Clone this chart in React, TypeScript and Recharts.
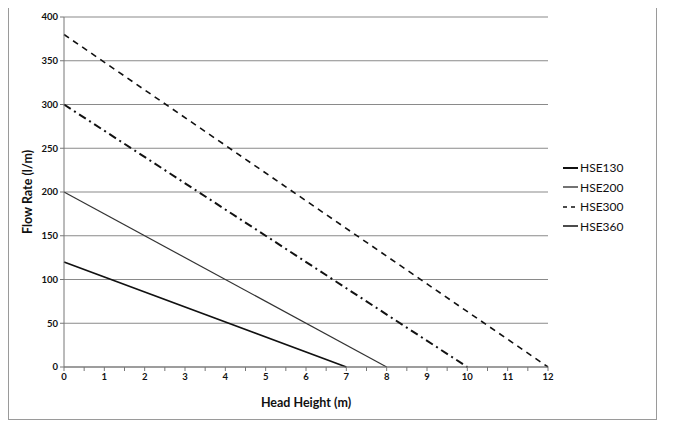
import React from 'react';
import { LineChart, Line, XAxis, YAxis, CartesianGrid } from 'recharts';

const headHeights = [0, 7, 8, 10, 12];
const hse130 = [120, 0, null, null, null];
const hse200 = [200, null, 0, null, null];
const hse300 = [380, null, null, null, 0];
const hse360 = [300, null, null, 0, null];
const xTicks = [0, 0.5, 1, 1.5, 2, 2.5, 3, 3.5, 4, 4.5, 5, 5.5, 6, 6.5, 7, 7.5, 8, 8.5, 9, 9.5, 10, 10.5, 11, 11.5, 12];
const yTicks = [0, 50, 100, 150, 200, 250, 300, 350, 400];

const data = headHeights.map((h, i) => ({
  h,
  HSE130: hse130[i],
  HSE200: hse200[i],
  HSE300: hse300[i],
  HSE360: hse360[i],
}));

const seriesStyle: Record<string, { color: string; width: number; dash?: string }> = {
  HSE130: { color: '#111', width: 1.7 },
  HSE200: { color: '#333', width: 1.2 },
  HSE300: { color: '#111', width: 1.6, dash: '6 5' },
  HSE360: { color: '#111', width: 2, dash: '8 4 2 4' },
};
const legendNames = ['HSE130', 'HSE200', 'HSE300', 'HSE360'];
const legendDash: Record<string, string | undefined> = { HSE130: undefined, HSE200: undefined, HSE300: '4 4', HSE360: undefined };

const font = 'Lato, "Open Sans", sans-serif';

const LegendContent = () => (
  <div style={{ fontFamily: font, fontSize: 12, color: '#111' }}>
    {legendNames.map((n) => (
      <div key={n} style={{ display: 'flex', alignItems: 'center', height: 19.5 }}>
        <svg width={18} height={10} style={{ marginRight: 1 }}>
          <line x1={2} y1={5} x2={17} y2={5} stroke={n === 'HSE200' ? '#444' : '#111'} strokeWidth={n === 'HSE130' ? 2 : 1.5} strokeDasharray={legendDash[n]} />
        </svg>
        <span>{n}</span>
      </div>
    ))}
  </div>
);

export default function App() {
  return (
    <div style={{ position: 'relative', width: 677, height: 438, margin: -8, background: '#fff' }}>
      <div style={{ position: 'absolute', left: 8, top: 7, width: 647, height: 411, border: '1.5px solid #9a9a9a' }} />
      <div style={{ position: 'absolute', left: 0, top: 0 }}>
        <LineChart width={677} height={438} data={data} margin={{ top: 17, right: 129, bottom: 41, left: 24 }}>
          <CartesianGrid vertical={false} stroke="#8a8a8a" strokeWidth={1.2} />
          <XAxis
            dataKey="h"
            type="number"
            domain={[0, 12]}
            ticks={xTicks}
            interval={0}
            tickSize={4}
            tickLine={{ stroke: '#777' }}
            axisLine={{ stroke: '#777' }}
            tickFormatter={(v: number) => (Number.isInteger(v) ? String(v) : '')}
            tick={{ fontSize: 9.5, fontFamily: font, fontWeight: 700, fill: '#111' }}
            height={30}
            label={{ value: 'Head Height (m)', position: 'insideBottom', offset: -10, style: { fontFamily: font, fontWeight: 700, fontSize: 12.5, fill: '#111' } }}
          />
          <YAxis
            type="number"
            domain={[0, 400]}
            ticks={yTicks}
            interval={0}
            tickSize={4}
            tickLine={{ stroke: '#777' }}
            axisLine={{ stroke: '#777' }}
            tick={{ fontSize: 9.5, fontFamily: font, fontWeight: 700, fill: '#111' }}
            width={40}
            label={{ value: 'Flow Rate (l/m)', angle: -90, position: 'insideLeft', offset: 4, style: { textAnchor: 'middle', fontFamily: font, fontWeight: 700, fontSize: 12.5, fill: '#111' } }}
          />
          {legendNames.map((n) => (
            <Line
              key={n}
              dataKey={n}
              type="linear"
              connectNulls
              dot={false}
              stroke={seriesStyle[n].color}
              strokeWidth={seriesStyle[n].width}
              strokeDasharray={seriesStyle[n].dash}
              isAnimationActive={false}
            />
          ))}
        </LineChart>
      </div>
      <div style={{ position: 'absolute', left: 561, top: 158 }}>
        <LegendContent />
      </div>
    </div>
  );
}
